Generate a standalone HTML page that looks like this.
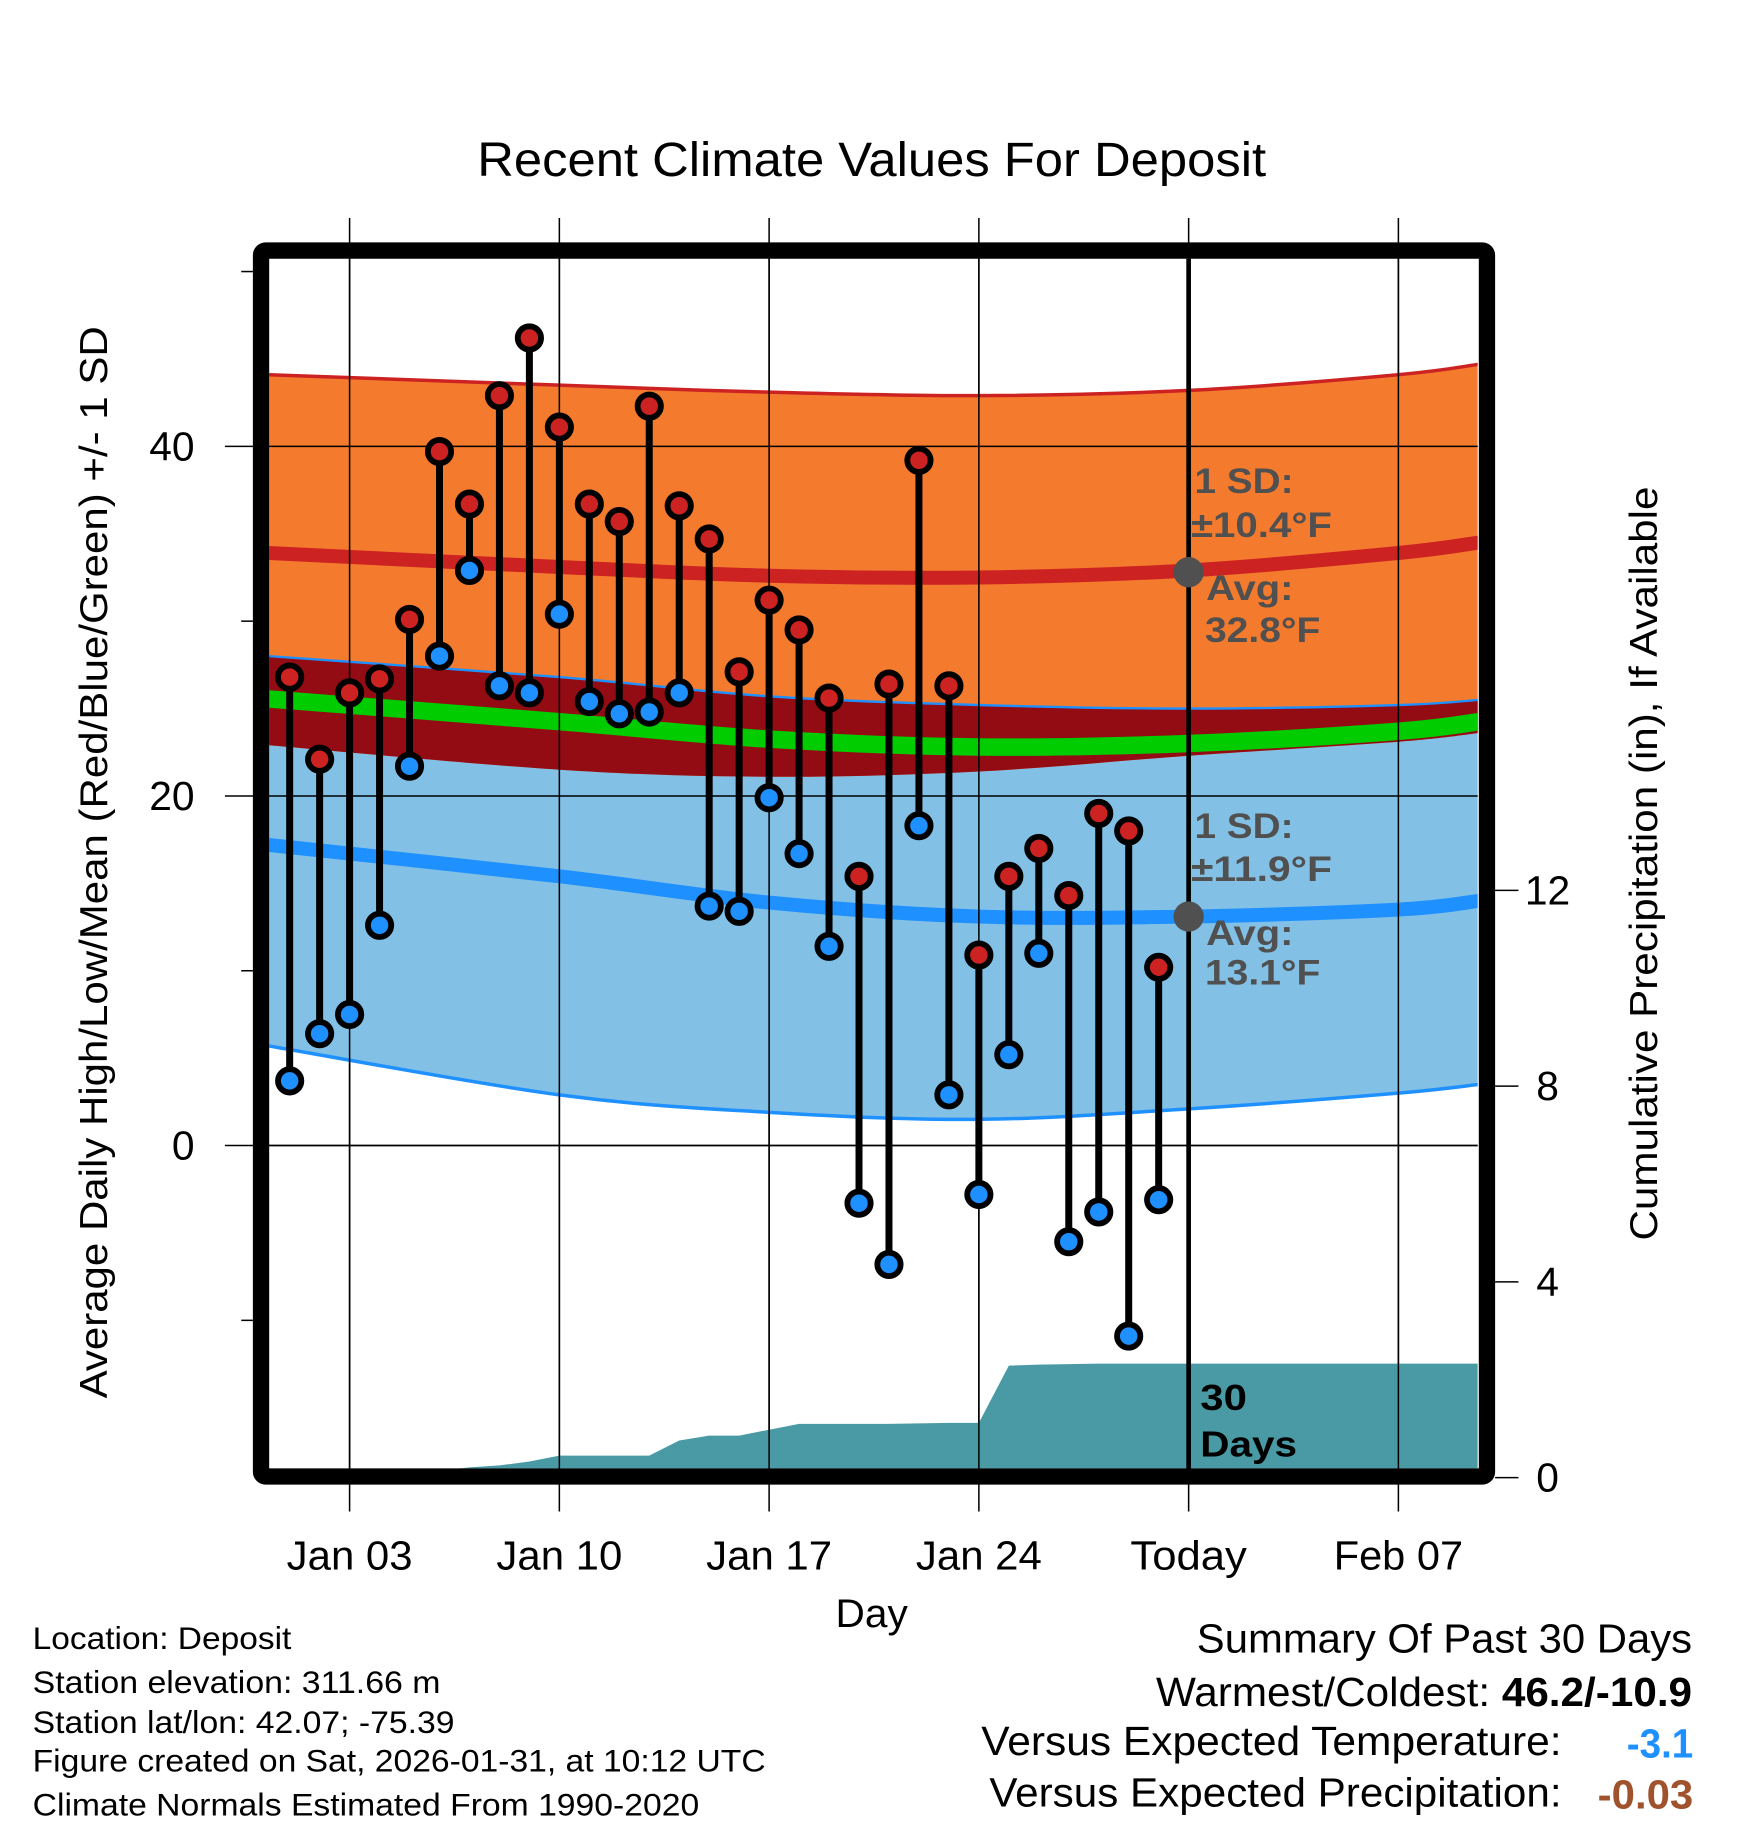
<!DOCTYPE html>
<html><head><meta charset="utf-8"><style>
html,body{margin:0;padding:0;background:#fff;}
svg{display:block;font-family:"Liberation Sans",Arial,sans-serif;}
</style></head><body>
<svg id="chart" width="1748" height="1828" viewBox="0 0 1500 1568.6" xmlns="http://www.w3.org/2000/svg">
<defs><clipPath id="plotclip"><rect x="231" y="222" width="1037" height="1038"/></clipPath></defs>
<rect width="1500" height="1568.6" fill="#fff"/>
<text x="748" y="151" font-size="41" text-anchor="middle" textLength="677" lengthAdjust="spacingAndGlyphs">Recent Climate Values For Deposit</text>
<g id="grid"></g>
<g id="plot" clip-path="url(#plotclip)"></g>
<g id="overlay"></g>
<rect x="224" y="215" width="1052" height="1052" rx="4" fill="none" stroke="#000" stroke-width="14"/>
<g id="axes"></g>
<text transform="translate(92,740) rotate(-90)" font-size="33" text-anchor="middle" textLength="920" lengthAdjust="spacingAndGlyphs">Average Daily High/Low/Mean (Red/Blue/Green) +/- 1 SD</text>
<text transform="translate(1422,741) rotate(-90)" font-size="33" text-anchor="middle" textLength="647" lengthAdjust="spacingAndGlyphs">Cumulative Precipitation (in), If Available</text>
<text x="748" y="1396" font-size="34" text-anchor="middle" textLength="62" lengthAdjust="spacingAndGlyphs">Day</text>
<g font-size="27">
<text x="28" y="1415" textLength="222" lengthAdjust="spacingAndGlyphs">Location: Deposit</text>
<text x="28" y="1453" textLength="350" lengthAdjust="spacingAndGlyphs">Station elevation: 311.66 m</text>
<text x="28" y="1487" textLength="362" lengthAdjust="spacingAndGlyphs">Station lat/lon: 42.07; -75.39</text>
<text x="28" y="1520" textLength="629" lengthAdjust="spacingAndGlyphs">Figure created on Sat, 2026-01-31, at 10:12 UTC</text>
<text x="28" y="1558" textLength="572" lengthAdjust="spacingAndGlyphs">Climate Normals Estimated From 1990-2020</text>
</g>
<g font-size="35">
<text x="1452" y="1418" text-anchor="end" textLength="425" lengthAdjust="spacingAndGlyphs">Summary Of Past 30 Days</text>
<text x="1452" y="1464" text-anchor="end" textLength="460" lengthAdjust="spacingAndGlyphs">Warmest/Coldest: <tspan font-weight="bold">46.2/-10.9</tspan></text>
<text x="1340" y="1506" text-anchor="end" textLength="498" lengthAdjust="spacingAndGlyphs">Versus Expected Temperature:</text>
<text x="1453" y="1508" text-anchor="end" fill="#1e90ff" font-weight="bold" textLength="57" lengthAdjust="spacingAndGlyphs">-3.1</text>
<text x="1340" y="1550" text-anchor="end" textLength="491" lengthAdjust="spacingAndGlyphs">Versus Expected Precipitation:</text>
<text x="1453" y="1552" text-anchor="end" fill="#a0522d" font-weight="bold" textLength="82" lengthAdjust="spacingAndGlyphs">-0.03</text>
</g>
</svg>
<script>
// ---- data ----
const days = [1,2,3,4,5,6,7,8,9,10,11,12,13,14,15,16,17,18,19,20,21,22,23,24,25,26,27,28,29,30];
const highs = [26.8,22.1,25.9,26.7,30.1,39.7,36.7,42.9,46.2,41.1,36.7,35.7,42.3,36.6,34.7,27.1,31.2,29.5,25.6,15.4,26.4,39.2,26.3,10.9,15.4,17.0,14.3,19.0,18.0,10.2];
const lows = [3.7,6.4,7.5,12.6,21.7,28.0,32.9,26.3,25.9,30.4,25.4,24.7,24.8,25.9,13.7,13.4,19.9,16.7,11.4,-3.3,-6.8,18.3,2.9,-2.8,5.2,11.0,-5.5,-3.8,-10.9,-3.1];
const normDays = [0.3,10,17,24,31,38,40.7];
const highPlusSD = [44.1,43.5,43.1,42.9,43.2,44.1,44.7];
const highMean = [33.9,33.1,32.6,32.5,32.9,33.9,34.5];
const highMinusSD = [22.9,21.5,21.1,21.4,22.3,23.1,23.6];
const lowPlusSD = [28.0,26.8,25.7,25.2,25.0,25.2,25.5];
const lowMean = [17.2,15.4,13.9,13.1,13.1,13.5,14.0];
const lowMinusSD = [5.7,2.9,1.9,1.5,2.1,3.0,3.5];
const precipDays = [1,2,3,4,5,6,6.5,7,8,9,10,11,12,13,14,15,16,17,18,19,20,21,22,23,24,25,26,27,28,29,30,31];
const precipCum = [0,0,0,0,0,0,0.18,0.21,0.25,0.33,0.45,0.45,0.45,0.45,0.76,0.86,0.86,0.98,1.10,1.10,1.10,1.10,1.11,1.12,1.12,2.29,2.31,2.32,2.33,2.33,2.33,2.33];
const xTickDays = [3,10,17,24,31,38];
const xTickLabels = ["Jan 03","Jan 10","Jan 17","Jan 24","Today","Feb 07"];
const yTicks = [40,20,0];
const yMinor = [50,30,10,-10];
const y2Ticks = [0,4,8,12];
const todayDay = 31;
const todayHighAvg = 32.8, todayLowAvg = 13.1;

// ---- scales ----
const X = d => 300 + (d-3)*25.714;
const Y = v => 983 - 15*v;
const Y2 = p => 1268 - 42*p;
const NS = "http://www.w3.org/2000/svg";
function mk(tag, attrs, parent){const e=document.createElementNS(NS,tag);for(const k in attrs)e.setAttribute(k,attrs[k]);parent.appendChild(e);return e;}
function spline(xs, ys){
  const p = xs.map((x,i)=>[X(x),Y(ys[i])]);
  let d = "M"+p[0][0]+","+p[0][1];
  for(let i=0;i<p.length-1;i++){
    const p0=p[Math.max(0,i-1)],p1=p[i],p2=p[i+1],p3=p[Math.min(p.length-1,i+2)];
    const c1=[p1[0]+(p2[0]-p0[0])/6,p1[1]+(p2[1]-p0[1])/6];
    const c2=[p2[0]-(p3[0]-p1[0])/6,p2[1]-(p3[1]-p1[1])/6];
    d+=" C"+c1[0]+","+c1[1]+" "+c2[0]+","+c2[1]+" "+p2[0]+","+p2[1];
  }
  return d;
}
function band(top, bot){
  const up = spline(normDays, top);
  const rx = normDays.slice().reverse(), ry = bot.slice().reverse();
  const down = spline(rx, ry).replace(/^M/,"L");
  return up+" "+down+" Z";
}
const plot = document.getElementById('plot');
const grid = document.getElementById('grid');
const overlay = document.getElementById('overlay');
const axes = document.getElementById('axes');

let e;
e = mk('path',{d:band(lowPlusSD,lowMinusSD),fill:'#82c0e6'},plot);


e = mk('path',{d:band(highPlusSD,highMinusSD),fill:'#f47a2e'},plot);


e = mk('path',{d:band(lowPlusSD,highMinusSD),fill:'#930c14'},plot);


const meanVals = highMean.map((h,i)=>(h+lowMean[i])/2);
e = mk('path',{d:spline(normDays,meanVals),fill:'none',stroke:'#00cc00','stroke-width':15},plot);


e = mk('path',{d:spline(normDays,highMean),fill:'none',stroke:'#cc2222','stroke-width':12},plot);


e = mk('path',{d:spline(normDays,lowMean),fill:'none',stroke:'#1e90ff','stroke-width':12},plot);


e = mk('path',{d:spline(normDays,highPlusSD),fill:'none',stroke:'#cc2222','stroke-width':3},plot);


e = mk('path',{d:spline(normDays,lowPlusSD),fill:'none',stroke:'#1e90ff','stroke-width':2},plot);


e = mk('path',{d:spline(normDays,lowMinusSD),fill:'none',stroke:'#1e90ff','stroke-width':3},plot);



let pd = "M"+X(precipDays[0])+","+Y2(0);
precipDays.forEach((d,i)=>{pd+=" L"+X(d)+","+Y2(precipCum[i]);});
pd += " L1270,"+Y2(precipCum[precipCum.length-1])+" L1270,"+Y2(0)+" Z";
e = mk('path',{d:pd,fill:'#4a9aa5'},plot);



yTicks.forEach(v=>{
  e = mk('line',{x1:193,x2:1268,y1:Y(v),y2:Y(v),stroke:'#000','stroke-width':1.3},grid);
  
  
});
yMinor.forEach(v=>{
  e = mk('line',{x1:207,x2:217,y1:Y(v),y2:Y(v),stroke:'#000','stroke-width':1.3},grid);
  
  
});
xTickDays.forEach(d=>{
  e = mk('line',{x1:X(d),x2:X(d),y1:187,y2:1297,stroke:'#000','stroke-width':1.3},grid);
  
  
});
const gridAbove = mk('g',{},overlay);
yTicks.forEach(v=>{
  e = mk('line',{x1:231,x2:1268,y1:Y(v),y2:Y(v),stroke:'#000','stroke-width':1.3},gridAbove);
  
  
});
xTickDays.forEach(d=>{
  e = mk('line',{x1:X(d),x2:X(d),y1:222,y2:1260,stroke:'#000','stroke-width':1.3},gridAbove);
  
  
});

e = mk('line',{x1:X(todayDay),x2:X(todayDay),y1:222,y2:1262,stroke:'#000','stroke-width':4},overlay);



days.forEach((d,i)=>{
  const x=X(d);
  e = mk('line',{x1:x,x2:x,y1:Y(highs[i]),y2:Y(lows[i]),stroke:'#000','stroke-width':6},overlay);
  
  
});
days.forEach((d,i)=>{
  const x=X(d);
  e = mk('circle',{cx:x,cy:Y(highs[i]),r:10,fill:'#cc2222',stroke:'#000','stroke-width':5},overlay);
  
  
  e = mk('circle',{cx:x,cy:Y(lows[i]),r:10,fill:'#1e90ff',stroke:'#000','stroke-width':5},overlay);
  
  
});

e = mk('circle',{cx:X(todayDay),cy:Y(todayHighAvg),r:13,fill:'#505050'},overlay);


e = mk('circle',{cx:X(todayDay),cy:Y(todayLowAvg),r:13,fill:'#505050'},overlay);



function txt(parent,x,y,s,attrs,name){const t=mk('text',Object.assign({x:x,y:y},attrs),parent);t.textContent=s;return t;}
function ann(len){return {'font-size':30,'font-weight':'bold',fill:'#505050',textLength:len,lengthAdjust:'spacingAndGlyphs'};}
txt(overlay,1025,423,"1 SD:",ann(85),'high-sd-label');
txt(overlay,1022,461,"±10.4°F",ann(121),'high-sd-value');
txt(overlay,1035,515,"Avg:",ann(75),'high-avg-label');
txt(overlay,1034,551,"32.8°F",ann(99),'high-avg-value');
txt(overlay,1025,719,"1 SD:",ann(85),'low-sd-label');
txt(overlay,1022,756,"±11.9°F",ann(121),'low-sd-value');
txt(overlay,1035,811,"Avg:",ann(75),'low-avg-label');
txt(overlay,1034,845,"13.1°F",ann(99),'low-avg-value');
txt(overlay,1030,1210,"30",{'font-size':31,'font-weight':'bold',fill:'#000',textLength:40,lengthAdjust:'spacingAndGlyphs'},'days-count');
txt(overlay,1030,1250,"Days",{'font-size':31,'font-weight':'bold',fill:'#000',textLength:83,lengthAdjust:'spacingAndGlyphs'},'days-label');

yTicks.forEach(v=>{ txt(axes,167,Y(v)+12,String(v),{'font-size':35,'text-anchor':'end'},'y-tick-label'); });
y2Ticks.forEach(p=>{
  e = mk('line',{x1:1283,x2:1303,y1:Y2(p),y2:Y2(p),stroke:'#000','stroke-width':1.3},axes);
  
  
  txt(axes,1328,Y2(p)+12,String(p),{'font-size':35,'text-anchor':'middle'},'y2-tick-label');
});
const xTickLens = [108,108,108,108,100,111];
xTickDays.forEach((d,i)=>{ txt(axes,X(d),1347,xTickLabels[i],{'font-size':35,'text-anchor':'middle',textLength:xTickLens[i],lengthAdjust:'spacingAndGlyphs'},'x-tick-label'); });
</script>
</body></html>
